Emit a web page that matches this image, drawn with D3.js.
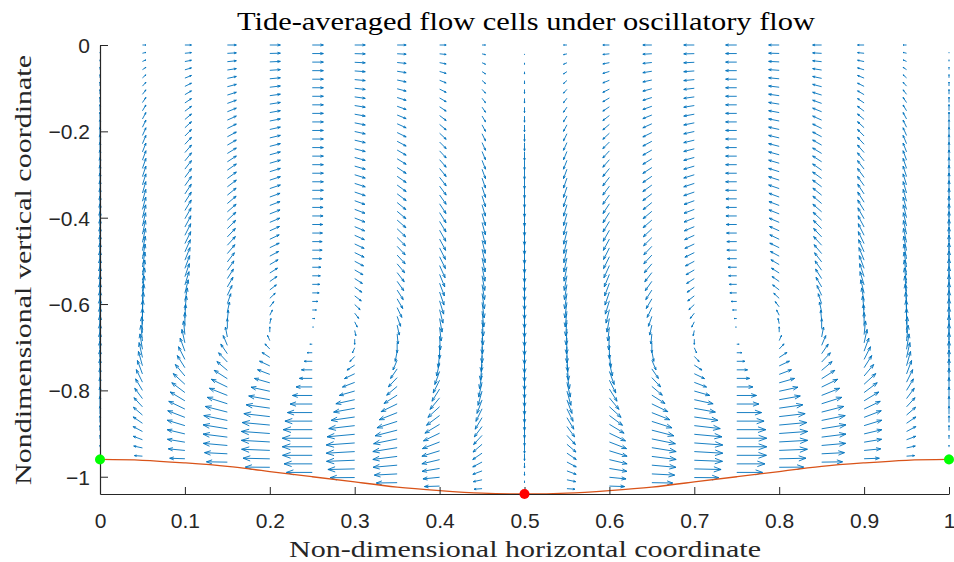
<!DOCTYPE html>
<html>
<head>
<meta charset="utf-8">
<script src="https://cdn.jsdelivr.net/npm/d3@7"></script>
<style>
  body { margin: 0; background: #fff; }
  svg { display: block; }
</style>
</head>
<body>
<div id="chart"></div>
<script>
// columns of the quiver grid (horizontal coordinate)
var colX = [0, 0.05, 0.1, 0.15, 0.2, 0.25, 0.3, 0.35, 0.4, 0.45, 0.5,
            0.55, 0.6, 0.65, 0.7, 0.75, 0.8, 0.85, 0.9, 0.95, 1];
// local water depth under each column (bed is at -depth)
var bedDepth = [0.96, 0.962, 0.968, 0.976, 0.988, 1.0, 1.012, 1.024, 1.032, 1.038, 1.04,
                1.038, 1.032, 1.024, 1.012, 1.0, 0.988, 0.976, 0.968, 0.962, 0.96];
// horizontal / vertical strength of each column
var uAmp = [0, 0.31, 0.59, 0.81, 0.95, 1, 0.95, 0.81, 0.59, 0.31, 0,
            -0.31, -0.59, -0.81, -0.95, -1, -0.95, -0.81, -0.59, -0.31, 0];
var wAmp = [1, 0.95, 0.81, 0.59, 0.31, 0, -0.31, -0.59, -0.81, -0.95, -1,
            -0.95, -0.81, -0.59, -0.31, 0, 0.31, 0.59, 0.81, 0.95, 1];
// velocity profiles from surface (first) to bed (last), 51 levels
var uProfile = [0.37, 0.37, 0.37, 0.37, 0.37, 0.37, 0.37, 0.37, 0.37, 0.37,
                0.37, 0.37, 0.37, 0.37, 0.37, 0.37, 0.37, 0.37, 0.36, 0.36,
                0.36, 0.35, 0.34, 0.33, 0.33, 0.31, 0.29, 0.27, 0.25, 0.23,
                0.19, 0.14, 0.09, 0.04, 0.0, -0.08, -0.17, -0.27, -0.36, -0.43,
                -0.54, -0.66, -0.74, -0.83, -0.91, -0.97, -1.0, -1.0, -0.99, -0.94,
                -0.86];
var wProfile = [0, 0.027, 0.053, 0.08, 0.107, 0.133, 0.157, 0.18, 0.203, 0.227,
                0.25, 0.27, 0.29, 0.31, 0.33, 0.35, 0.367, 0.383, 0.4, 0.417,
                0.433, 0.45, 0.463, 0.477, 0.49, 0.503, 0.517, 0.527, 0.537, 0.547,
                0.553, 0.56, 0.563, 0.567, 0.567, 0.563, 0.553, 0.54, 0.523, 0.5,
                0.473, 0.44, 0.403, 0.363, 0.32, 0.273, 0.223, 0.173, 0.12, 0.067,
                0.02];
var xTicks = [0, 0.1, 0.2, 0.3, 0.4, 0.5, 0.6, 0.7, 0.8, 0.9, 1];
var yTicks = [0, -0.2, -0.4, -0.6, -0.8, -1];
var crestX = [0, 1], crestY = [-0.96, -0.96];
var troughX = [0.5], troughY = [-1.04];

var width = 954,
    height = 562;

var svg = d3.select("#chart")
  .append("svg")
    .attr("width", width)
    .attr("height", height);

var x = d3.scaleLinear().domain([0, 1]).range([100, 949]);
var y = d3.scaleLinear().domain([-1.04, 0]).range([494, 45]);

var arrowPx = 30;   // length in px of a unit vector
var sigma = d3.range(uProfile.length).map(function(k){ return k * 0.0198; });

// build the arrows
var arrows = [];
colX.forEach(function(cx, i){
  sigma.forEach(function(s, k){
    arrows.push({
      x: cx,
      y: -s * bedDepth[i],
      u: uAmp[i] * uProfile[k],
      w: wAmp[i] * wProfile[k]
    });
  });
});

function arrowPath(d) {
  var x0 = x(d.x), y0 = y(d.y);
  var dx = d.u * arrowPx, dy = -d.w * arrowPx;
  var x1 = x0 + dx, y1 = y0 + dy;
  var a = 0.27, b = 0.36;
  var hx1 = x1 - a * (dx + b * dy), hy1 = y1 - a * (dy - b * dx);
  var hx2 = x1 - a * (dx - b * dy), hy2 = y1 - a * (dy + b * dx);
  return "M" + x0 + "," + y0 + "L" + x1 + "," + y1 +
         "M" + hx1 + "," + hy1 + "L" + x1 + "," + y1 + "L" + hx2 + "," + hy2;
}

svg.append("g")
  .selectAll("path")
  .data(arrows)
  .enter()
  .append("path")
    .attr("d", arrowPath)
    .attr("fill", "none")
    .attr("stroke", "#0072BD")
    .attr("stroke-width", 1)
    .attr("stroke-opacity", 0.9);

// bed profile
var bed = colX.map(function(cx, i){ return [cx, -bedDepth[i]]; });
svg.append("path")
  .datum(bed)
  .attr("fill", "none")
  .attr("stroke", "#D95319")
  .attr("stroke-width", 1.3)
  .attr("d", d3.line()
      .x(function(d){ return x(d[0]); })
      .y(function(d){ return y(d[1]); })
      .curve(d3.curveNatural));

// axes (MATLAB style, ticks inward, no box)
var axisColor = "#262626";
var fmt = function(d){ return String(d).replace("-", "\u2212"); };
var xAxis = svg.append("g")
  .attr("transform", "translate(0," + y(-1.04) + ")")
  .call(d3.axisBottom(x).tickValues(xTicks).tickSizeInner(-7).tickSizeOuter(0)
        .tickFormat(fmt));
var yAxis = svg.append("g")
  .attr("transform", "translate(" + x(0) + ",0)")
  .call(d3.axisLeft(y).tickValues(yTicks).tickSizeInner(-8).tickSizeOuter(0)
        .tickFormat(fmt));

[xAxis, yAxis].forEach(function(g){
  g.select(".domain").attr("stroke", axisColor).attr("stroke-width", 1.2);
  g.selectAll(".tick line").attr("stroke", axisColor).attr("stroke-width", 1);
  g.selectAll(".tick text")
    .attr("fill", axisColor)
    .style("font-family", "'Liberation Sans', Arial, sans-serif")
    .style("font-size", "21px");
});
xAxis.selectAll(".tick text").attr("y", 19).attr("dy", "0.71em");
yAxis.selectAll(".tick text").attr("x", -10).attr("dy", "0.35em");

// markers
svg.selectAll(".crest")
  .data(crestX)
  .enter()
  .append("circle")
    .attr("class", "crest")
    .attr("cx", function(d){ return x(d); })
    .attr("cy", function(d, i){ return y(crestY[i]); })
    .attr("r", 5)
    .attr("fill", "#00ff00");
svg.selectAll(".trough")
  .data(troughX)
  .enter()
  .append("circle")
    .attr("class", "trough")
    .attr("cx", function(d){ return x(d); })
    .attr("cy", function(d, i){ return y(troughY[i]); })
    .attr("r", 5)
    .attr("fill", "#ff0000");

// titles
var serif = "'Liberation Serif', 'Times New Roman', serif";
svg.append("text")
  .attr("x", 526).attr("y", 30)
  .attr("text-anchor", "middle")
  .attr("textLength", 578).attr("lengthAdjust", "spacingAndGlyphs")
  .style("font-family", serif).style("font-size", "26px")
  .attr("fill", "#000")
  .text("Tide-averaged flow cells under oscillatory flow");
svg.append("text")
  .attr("x", 525).attr("y", 557)
  .attr("text-anchor", "middle")
  .attr("textLength", 472).attr("lengthAdjust", "spacingAndGlyphs")
  .style("font-family", serif).style("font-size", "24px")
  .attr("fill", axisColor)
  .text("Non-dimensional horizontal coordinate");
svg.append("text")
  .attr("transform", "translate(31,270) rotate(-90)")
  .attr("text-anchor", "middle")
  .attr("textLength", 430).attr("lengthAdjust", "spacingAndGlyphs")
  .style("font-family", serif).style("font-size", "24px")
  .attr("fill", axisColor)
  .text("Nondimensional vertical coordinate");
</script>
</body>
</html>
